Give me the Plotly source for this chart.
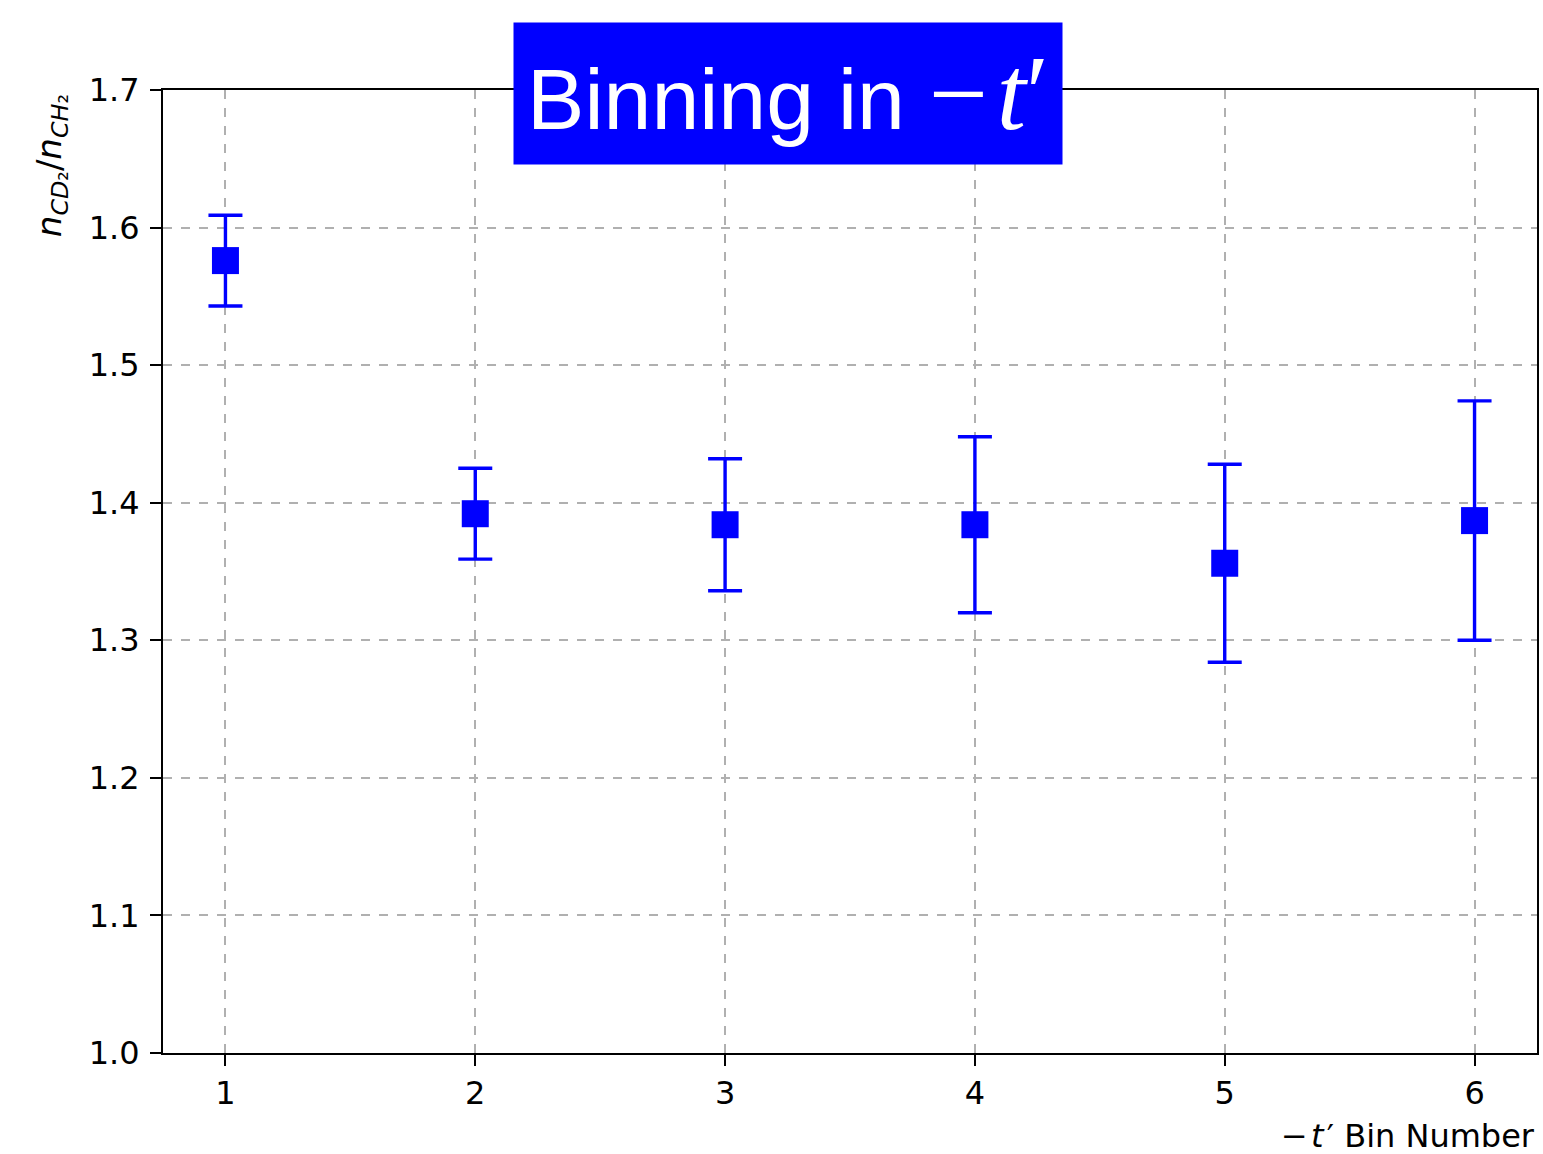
import plotly.graph_objects as go

# Ratio of CD2 to CH2 yields per -t' bin
bins = [1, 2, 3, 4, 5, 6]
ratio = [1.576, 1.392, 1.384, 1.384, 1.356, 1.387]
ratio_err = [0.033, 0.033, 0.048, 0.064, 0.072, 0.087]
y_ticks = [1.0, 1.1, 1.2, 1.3, 1.4, 1.5, 1.6, 1.7]

BLUE = "#0000ff"
TICK_FONT = dict(family="DejaVu Sans", size=32, color="black")

# Figure geometry (pixels)
FIG_W, FIG_H = 1543, 1154
M_L, M_R, M_T, M_B = 163, 4, 90, 101
PLOT_W = FIG_W - M_L - M_R
PLOT_H = FIG_H - M_T - M_B


def paper_x(px):
    return (px - M_L) / PLOT_W


def paper_y(py):
    return 1 - (py - M_T) / PLOT_H


fig = go.Figure()
fig.add_trace(go.Scatter(
    x=bins, y=ratio, mode="markers",
    marker=dict(symbol="square", size=27, color=BLUE, line=dict(width=0)),
    error_y=dict(type="data", array=ratio_err, symmetric=True,
                 color=BLUE, thickness=3.4, width=17),
    showlegend=False,
))

axis_common = dict(
    showline=True, linecolor="black", linewidth=2, mirror=True,
    ticks="outside", ticklen=11, tickwidth=2, tickcolor="black",
    showgrid=True, gridcolor="#b0b0b0", gridwidth=2, griddash="dash",
    zeroline=False, tickfont=TICK_FONT,
)

fig.update_xaxes(range=[0.75, 6.25], tickvals=bins,
                 ticktext=[str(b) for b in bins], **axis_common)
fig.update_yaxes(range=[1.0, 1.7], tickvals=y_ticks,
                 ticktext=[f"{v:.1f}" for v in y_ticks],
                 ticklabelstandoff=4, **axis_common)

# Header banner over the top spine
fig.add_annotation(
    xref="paper", yref="paper", x=paper_x(789), y=paper_y(93.5),
    xanchor="center", yanchor="middle",
    text=("Binning in <span style='font-family:Liberation Serif;"
          "font-size:105px'>−\u200a<i>t</i>′</span>"),
    font=dict(family="Liberation Sans", size=86, color="white"),
    bgcolor=BLUE, borderpad=0, width=548, height=141,
    showarrow=False,
)

# Axis titles placed at the ends of the axes
fig.add_annotation(
    xref="paper", yref="paper", x=paper_x(52), y=paper_y(166),
    xanchor="center", yanchor="middle", textangle=-90,
    text="<i>n</i><sub><i>CD</i>₂</sub>/<i>n</i><sub><i>CH</i>₂</sub>",
    font=dict(family="DejaVu Sans", size=34, color="black"),
    showarrow=False,
)
fig.add_annotation(
    xref="paper", yref="paper", x=paper_x(1539), y=paper_y(1136),
    xanchor="right", yanchor="middle",
    text="−\u200a<i>t</i>\u200a′ Bin Number",
    font=dict(family="DejaVu Sans", size=32, color="black"),
    showarrow=False,
)

fig.update_layout(
    width=FIG_W, height=FIG_H,
    margin=dict(l=M_L, r=M_R, t=M_T, b=M_B),
    paper_bgcolor="white", plot_bgcolor="white",
)

fig.write_html("out.html")
